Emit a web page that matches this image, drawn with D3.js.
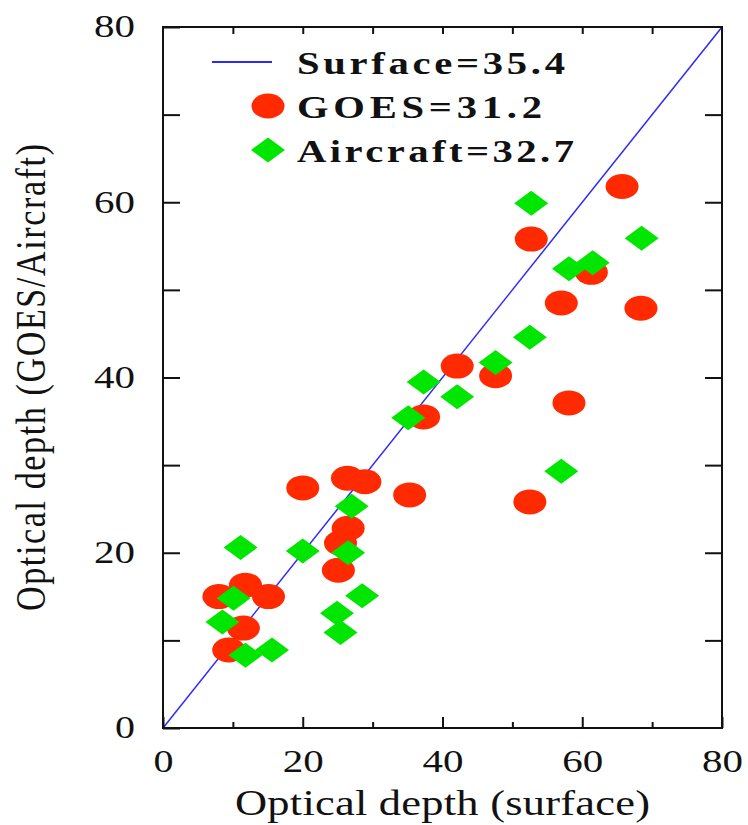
<!DOCTYPE html>
<html>
<head>
<meta charset="utf-8">
<script src="https://cdn.jsdelivr.net/npm/d3@7.9.0/dist/d3.min.js"></script>
<style>
  body { margin: 0; background: #fff; }
  svg text { font-family: "Liberation Serif", "Times New Roman", "DejaVu Serif", serif; }
  .domain { display: none; }
</style>
</head>
<body>
<svg id="chart" width="748" height="825"></svg>
<script>
// data
const goesX = [8.0, 9.4, 11.5, 11.8, 15.1, 20.0, 25.1, 25.4, 26.5, 26.4, 28.9, 35.3, 37.3, 42.1, 47.6, 52.5, 52.7, 57.0, 58.1, 61.3, 65.7, 68.4];
const goesY = [15.0, 8.9, 11.4, 16.3, 15.0, 27.4, 18.0, 21.1, 22.8, 28.5, 28.1, 26.6, 35.5, 41.3, 40.2, 25.8, 55.8, 48.5, 37.1, 52.0, 61.8, 47.9];
const airX = [8.5, 10.1, 11.1, 11.8, 15.6, 20.0, 24.9, 25.4, 26.5, 27.0, 28.5, 35.1, 37.3, 42.1, 47.6, 52.5, 52.7, 57.0, 58.1, 61.5, 68.5];
const airY = [12.1, 14.8, 20.6, 8.3, 8.9, 20.2, 13.1, 10.9, 20.0, 25.3, 15.1, 35.4, 39.5, 37.8, 41.7, 44.6, 59.9, 29.3, 52.4, 53.1, 55.9];
const tickLabels = [0, 20, 40, 60, 80];
const legendLabels = ["Surface=35.4", "GOES=31.2", "Aircraft=32.7"];

const serif = '"Liberation Serif", "Times New Roman", "DejaVu Serif", serif';
const stretch = 1.27; // the picture is widened horizontally
const svg = d3.select('#chart');
const margin = { top: 27, right: 26, bottom: 97, left: 163 };
const W = 748 - margin.left - margin.right;
const H = 825 - margin.top - margin.bottom;

const x = d3.scaleLinear().domain([0, 80]).range([0, W]);
const y = d3.scaleLinear().domain([0, 80]).range([H, 0]);

const g = svg.append('g').attr('transform', `translate(${margin.left},${margin.top})`);

// 1:1 line
g.append('line')
  .attr('x1', x(0)).attr('y1', y(0)).attr('x2', x(80)).attr('y2', y(80))
  .attr('stroke', '#2a2aff').attr('stroke-width', 1.5);

// GOES ellipses
const goes = goesX.map((d, i) => ({ x: d, y: goesY[i] }));
g.selectAll('ellipse.goes').data(goes).join('ellipse')
  .attr('class', 'goes')
  .attr('cx', d => x(d.x)).attr('cy', d => y(d.y))
  .attr('rx', 16.5).attr('ry', 12.5)
  .attr('fill', '#ff2a00');

// aircraft diamonds
const air = airX.map((d, i) => ({ x: d, y: airY[i] }));
const diamond = 'M-17,0L0,-12.5L17,0L0,12.5Z';
g.selectAll('path.air').data(air).join('path')
  .attr('class', 'air')
  .attr('d', diamond)
  .attr('transform', d => `translate(${x(d.x)},${y(d.y)})`)
  .attr('fill', '#00e600');

// axes: inward ticks
const fmtMajor = d => tickLabels.includes(d) ? d : '';
const xb = g.append('g').attr('transform', `translate(0,${H})`)
  .call(d3.axisBottom(x).tickValues(d3.range(0, 81, 10)).tickSize(-7).tickFormat(fmtMajor).tickPadding(22));
xb.selectAll('.tick line').attr('y2', d => d % 20 === 0 ? -11 : -6);

g.append('g')
  .call(d3.axisTop(x).tickValues(d3.range(10, 80, 10)).tickSize(-7).tickFormat(''));

const yl = g.append('g')
  .call(d3.axisLeft(y).tickValues(d3.range(0, 81, 10)).tickSize(-17).tickFormat(fmtMajor).tickPadding(28));

g.append('g').attr('transform', `translate(${W},0)`)
  .call(d3.axisRight(y).tickValues(d3.range(10, 80, 10)).tickSize(-17).tickFormat(''));

g.selectAll('.tick line').attr('stroke', '#111').attr('stroke-width', 2);
g.selectAll('.tick text')
  .attr('font-family', serif).attr('font-size', 31).attr('fill', '#111')
  .attr('textLength', d => String(d).length > 1 ? 41 : 20)
  .attr('lengthAdjust', 'spacingAndGlyphs');
xb.selectAll('.tick text').attr('dy', '0.72em');

// frame
g.append('rect').attr('width', W).attr('height', H)
  .attr('fill', 'none').attr('stroke', '#111').attr('stroke-width', 2);

// axis titles
svg.append('text')
  .attr('transform', `translate(${margin.left + W / 2},815) scale(${stretch},1)`)
  .attr('text-anchor', 'middle')
  .attr('font-family', serif).attr('font-size', 35)
  .attr('textLength', 415 / stretch).attr('lengthAdjust', 'spacing')
  .attr('fill', '#111')
  .text('Optical depth (surface)');

svg.append('text')
  .attr('transform', `translate(45,${margin.top + H / 2}) scale(${stretch},1) rotate(-90)`)
  .attr('text-anchor', 'middle')
  .attr('font-family', serif).attr('font-size', 34)
  .attr('textLength', 467).attr('lengthAdjust', 'spacing')
  .attr('fill', '#111')
  .text('Optical depth (GOES/Aircraft)');

// legend
const lg = svg.append('g');
lg.append('line').attr('x1', 212).attr('x2', 272).attr('y1', 62).attr('y2', 62)
  .attr('stroke', '#2a2aff').attr('stroke-width', 2);
lg.append('ellipse').attr('cx', 268).attr('cy', 106).attr('rx', 16.5).attr('ry', 12.5).attr('fill', '#ff2a00');
lg.append('path').attr('d', diamond).attr('transform', 'translate(268,150)').attr('fill', '#00e600');

const legendLen = [268, 245, 277];
lg.selectAll('text.lab').data(legendLabels).join('text')
  .attr('class', 'lab')
  .attr('transform', (d, i) => `translate(297,${74 + i * 44}) scale(${stretch},1)`)
  .attr('font-family', serif).attr('font-size', 32).attr('font-weight', 'bold')
  .attr('textLength', (d, i) => legendLen[i] / stretch).attr('lengthAdjust', 'spacing')
  .attr('fill', '#111')
  .text(d => d);
</script>
</body>
</html>
